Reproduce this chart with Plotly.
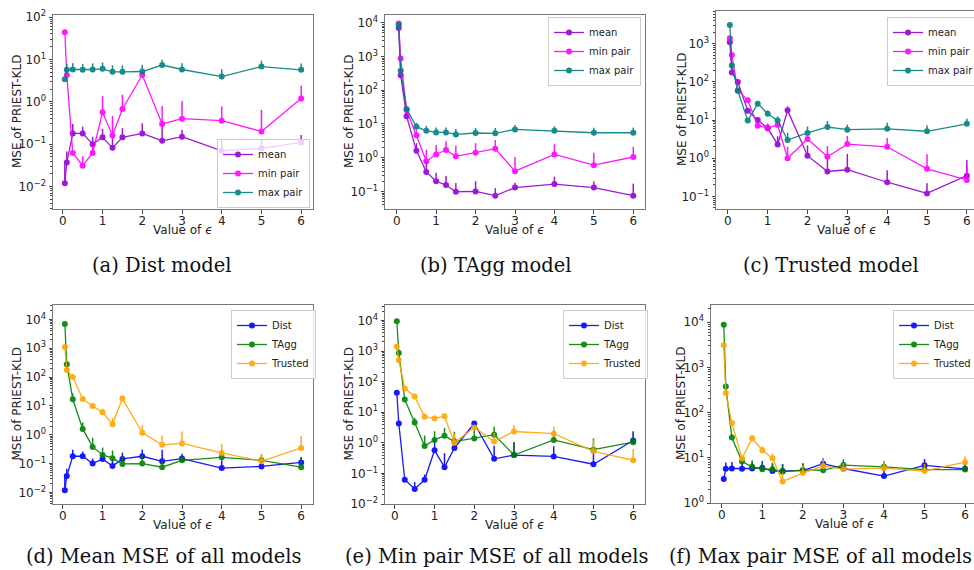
import plotly.graph_objects as go

eps = [0.05, 0.1, 0.25, 0.5, 0.75, 1, 1.25, 1.5, 2, 2.5, 3, 4, 5, 6]

# Dist model
dist_mean = [0.012, 0.037, 0.18, 0.18, 0.10, 0.145, 0.082, 0.145, 0.18, 0.12, 0.15, 0.07, 0.08, 0.11]
dist_mean_err = [0.023, 0.03, 0.12, 0.08, 0.05, 0.085, 0.06, 0.095, 0.13, 0.18, 0.07, 0.06, 0.05, 0.055]
dist_min = [44, 4.3, 0.062, 0.031, 0.062, 0.57, 0.16, 0.68, 4.3, 0.3, 0.4, 0.36, 0.2, 1.2]
dist_min_err = [0, 0, 0, 0.021, 0.03, 0.8, 0.3, 0.8, 0.5, 0.5, 0.65, 0.42, 0.45, 1.2]
dist_max = [3.4, 5.7, 5.8, 5.7, 5.8, 6.0, 5.1, 5.1, 5.2, 7.4, 5.8, 3.95, 6.8, 5.7]
dist_max_err = [0.5, 2.2, 2.3, 2.2, 2.3, 2.5, 2.2, 2.2, 2.3, 2.4, 2.3, 1.9, 2.6, 2.3]

# TAgg model
tagg_mean = [7000, 280, 17, 1.6, 0.38, 0.2, 0.155, 0.098, 0.1, 0.075, 0.13, 0.165, 0.13, 0.075]
tagg_mean_err = [0, 0, 10, 1.1, 0.4, 0.16, 0.13, 0.08, 0.1, 0.05, 0.05, 0.11, 0.07, 0.095]
tagg_min = [9500, 870, 26, 4.6, 0.79, 1.25, 1.7, 1.1, 1.4, 1.85, 0.4, 1.25, 0.6, 1.05]
tagg_min_err = [0, 0, 5, 2, 0.95, 1.15, 1.4, 1.2, 1.3, 1.5, 0.65, 1.25, 0.8, 1.05]
tagg_max = [8800, 380, 28, 8.3, 6.3, 5.6, 5.6, 4.9, 5.4, 5.3, 6.9, 6.3, 5.5, 5.5]
tagg_max_err = [0, 0, 5, 2.5, 2.5, 2.2, 2.2, 2.2, 2.2, 2.3, 2.4, 2.2, 2.2, 2.3]

# Trusted model
trus_mean = [1100, 178, 100, 17.5, 10, 6.1, 2.3, 18, 1.17, 0.45, 0.5, 0.235, 0.12, 0.35]
trus_mean_err = [0, 0, 0, 3, 2, 2, 1.5, 5, 1.0, 0.5, 0.8, 0.25, 0.1, 0.55]
trus_min = [1400, 510, 60, 33, 7.1, 6.3, 7.4, 1.0, 3.2, 1.1, 2.35, 2.0, 0.53, 0.27]
trus_min_err = [0, 0, 0, 0, 2, 1.5, 1.5, 1.0, 0, 1.0, 1.5, 1.4, 0.75, 0.35]
trus_max = [3100, 270, 59, 9.7, 27, 14.7, 9.8, 3.0, 4.6, 6.6, 5.6, 5.9, 5.1, 8.0]
trus_max_err = [0, 0, 0, 1.5, 4, 3.3, 2.7, 1.7, 2.2, 2.9, 2.0, 2.6, 2.2, 2.8]

captions = ["(a) Dist model", "(b) TAgg model", "(c) Trusted model",
            "(d) Mean MSE of all models", "(e) Min pair MSE of all models",
            "(f) Max pair MSE of all models"]
ytitle = "MSE of PRIEST-KLD"
xtitle = "Value of <i>ϵ</i>"

C_MEAN, C_MIN, C_MAX = "#9400D3", "#FF00FF", "#008080"
C_DIST, C_TAGG, C_TRUS = "#0000FF", "#008000", "#FFA500"

W, H = 974, 570

# panel geometry in pixels: (left, right, top, bottom), x range, y log range, decade ticks, y-title x
panels = [
    dict(px=(53, 313, 15, 209), xr=[-0.2475, 6.2975], yr=[-2.53, 2.05], dec=range(-2, 3), yt=17),
    dict(px=(385, 645, 15, 209), xr=[-0.2975, 6.2975], yr=[-1.52, 4.23], dec=range(-1, 5), yt=349),
    dict(px=(716, 974, 11, 209), xr=[-0.2975, 6.18], yr=[-1.33, 3.86], dec=range(-1, 4), yt=682),
    dict(px=(53, 313, 305, 504), xr=[-0.2475, 6.2975], yr=[-2.4, 4.5], dec=range(-2, 5), yt=16),
    dict(px=(385, 645, 305, 504), xr=[-0.2475, 6.2975], yr=[-2.0, 4.51], dec=range(-2, 5), yt=348),
    dict(px=(711, 974, 305, 503), xr=[-0.265, 6.22], yr=[0.0, 4.38], dec=range(0, 5), yt=681),
]

series = [
    [("mean", dist_mean, dist_mean_err, C_MEAN), ("min pair", dist_min, dist_min_err, C_MIN), ("max pair", dist_max, dist_max_err, C_MAX)],
    [("mean", tagg_mean, tagg_mean_err, C_MEAN), ("min pair", tagg_min, tagg_min_err, C_MIN), ("max pair", tagg_max, tagg_max_err, C_MAX)],
    [("mean", trus_mean, trus_mean_err, C_MEAN), ("min pair", trus_min, trus_min_err, C_MIN), ("max pair", trus_max, trus_max_err, C_MAX)],
    [("Dist", dist_mean, dist_mean_err, C_DIST), ("TAgg", tagg_mean, tagg_mean_err, C_TAGG), ("Trusted", trus_mean, trus_mean_err, C_TRUS)],
    [("Dist", dist_min, dist_min_err, C_DIST), ("TAgg", tagg_min, tagg_min_err, C_TAGG), ("Trusted", trus_min, trus_min_err, C_TRUS)],
    [("Dist", dist_max, dist_max_err, C_DIST), ("TAgg", tagg_max, tagg_max_err, C_TAGG), ("Trusted", trus_max, trus_max_err, C_TRUS)],
]

# legend boxes: (anchor x px, anchor y px, xanchor, yanchor)
legends = [
    (310, 208, "right", "bottom"),
    (641, 17, "right", "top"),
    (887, 17, "left", "top"),
    (231, 310, "left", "top"),
    (563, 310, "left", "top"),
    (893, 310, "left", "top"),
]

caption_pos = [(161, 265, "center"), (496, 265, "center"), (831, 265, "center"),
               (164, 556, "center"), (497, 556, "center"), (667, 556, "left")]

fig = go.Figure()
layout = dict(width=W, height=H, margin=dict(l=0, r=0, t=0, b=0, autoexpand=False),
              plot_bgcolor="white", paper_bgcolor="white", showlegend=True,
              font=dict(family="DejaVu Sans", size=12, color="#222"))

tickfont = dict(family="DejaVu Sans", size=12, color="#222")
annotations = []
for i, p in enumerate(panels):
    n = i + 1
    sfx = "" if n == 1 else str(n)
    l, r, t, b = p["px"]
    dec = list(p["dec"])
    layout["xaxis" + sfx] = dict(domain=[l / W, r / W], range=p["xr"], anchor="y" + sfx, automargin=False,
                      tickvals=[0, 1, 2, 3, 4, 5, 6], ticks="outside", ticklen=3.5, tickcolor="#444",
                      ticklabeloverflow="allow", ticklabelstandoff=-3,
                      showline=True, mirror=True, linecolor="#777", linewidth=1, showgrid=False, zeroline=False,
                      tickfont=tickfont)
    layout["yaxis" + sfx] = dict(domain=[1 - b / H, 1 - t / H], type="log", range=p["yr"], anchor="x" + sfx,
                      automargin=False,
                      tickvals=[10.0 ** d for d in dec],
                      ticktext=[f"10<sup>{'−' if d < 0 else ''}{abs(d)}</sup>" for d in dec],
                      ticks="outside", ticklen=3.5, tickcolor="#444", ticklabeloverflow="allow",
                      minor=dict(ticks="outside", ticklen=2, tickcolor="#444", dtick="D1", showgrid=False),
                      showline=True, mirror=True, linecolor="#777", linewidth=1, showgrid=False, zeroline=False,
                      tickfont=tickfont)
    # y axis title
    annotations.append(dict(x=p["yt"] / W, y=1 - (t + b) / 2 / H, xref="paper", yref="paper", text=ytitle,
                            textangle=-90, showarrow=False, xanchor="center", yanchor="middle",
                            font=dict(family="DejaVu Sans", size=12, color="#222")))
    # x axis title placed just under the tick labels, centred on the full (uncropped) axis
    full_right = l + (r - l) * 6.5975 / (p["xr"][1] - p["xr"][0]) if n in (3, 6) else r
    xmid = (l + full_right) / 2
    annotations.append(dict(x=xmid / W, y=1 - (b + 21) / H, xref="paper", yref="paper", text=xtitle,
                            showarrow=False, xanchor="center", yanchor="middle",
                            font=dict(family="DejaVu Sans", size=12, color="#222")))
    lname = "legend" if n == 1 else f"legend{n}"
    lx, ly, xan, yan = legends[i]
    layout[lname] = dict(x=lx / W, y=1 - ly / H, xanchor=xan, yanchor=yan, xref="paper", yref="paper",
                         bgcolor="rgba(255,255,255,0.8)", bordercolor="#cccccc", borderwidth=1,
                         font=dict(family="DejaVu Sans", size=10, color="#222"), tracegroupgap=0, itemwidth=30)
    for name, vals, err, col in series[i]:
        fig.add_trace(go.Scatter(
            x=eps, y=vals, name=name, mode="lines+markers",
            line=dict(color=col, width=1.3), marker=dict(color=col, size=6),
            error_y=dict(type="data", symmetric=False, array=err, arrayminus=[0] * len(err),
                         color=col, thickness=1.5, width=0),
            xaxis="x" + sfx, yaxis="y" + sfx,
            legend=lname, opacity=0.9))

for (cx, cy, anc), txt in zip(caption_pos, captions):
    annotations.append(dict(x=cx / W, y=1 - cy / H, xref="paper", yref="paper", text=txt, showarrow=False,
                            xanchor=anc, yanchor="middle",
                            font=dict(family="DejaVu Serif", size=19.5, color="#111")))
layout["annotations"] = annotations
fig.update_layout(**layout)
fig.write_html("out.html", config={"displayModeBar": False},
               post_script="document.body.style.margin='0';document.body.style.overflow='hidden';")
